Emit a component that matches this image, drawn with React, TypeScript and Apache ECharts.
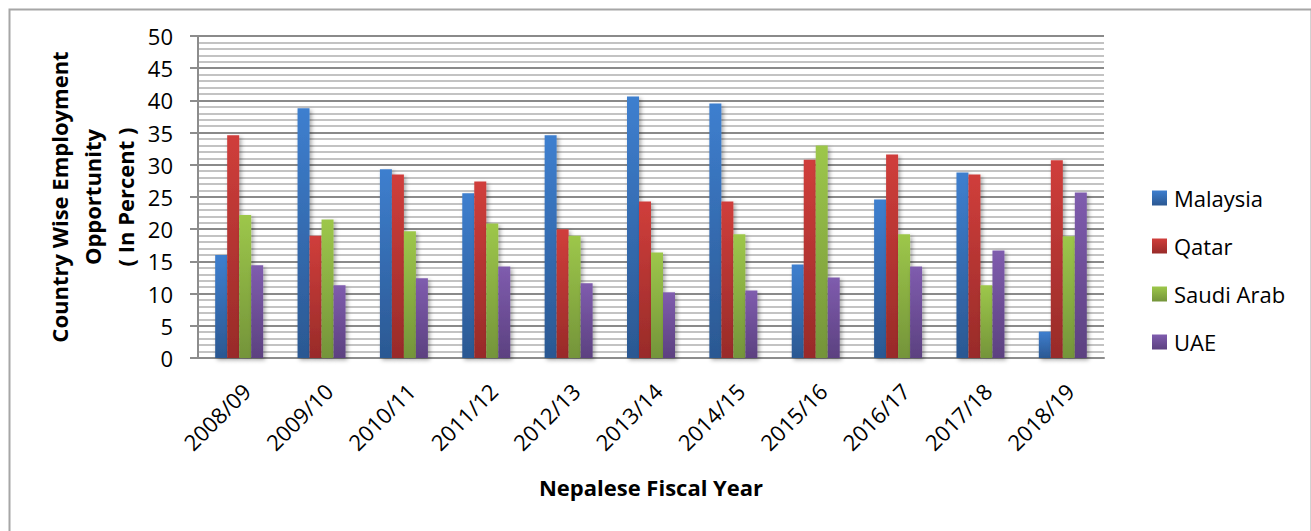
import React, { useEffect, useRef } from "react";
import * as echarts from "echarts";

const categories = ["2008/09", "2009/10", "2010/11", "2011/12", "2012/13", "2013/14", "2014/15", "2015/16", "2016/17", "2017/18", "2018/19"];
const malaysia = [16.0, 38.8, 29.3, 25.6, 34.6, 40.6, 39.5, 14.5, 24.6, 28.8, 4.1];
const qatar = [34.6, 19.0, 28.5, 27.4, 20.0, 24.3, 24.3, 30.8, 31.6, 28.5, 30.7];
const saudiArab = [22.2, 21.5, 19.7, 20.9, 19.0, 16.4, 19.2, 33.0, 19.2, 11.3, 18.9];
const uae = [14.4, 11.3, 12.4, 14.2, 11.6, 10.2, 10.5, 12.5, 14.2, 16.7, 25.7];
const seriesNames = ["Malaysia", "Qatar", "Saudi Arab", "UAE"];
const yTitle = "Country Wise Employment\nOpportunity\n( In Percent )";
const xTitle = "Nepalese Fiscal Year";

const FONT = "'Open Sans', Lato, sans-serif";

const grad = (top: string, bottom: string) =>
  new echarts.graphic.LinearGradient(0, 0, 0, 1, [
    { offset: 0, color: top },
    { offset: 1, color: bottom },
  ]);

export default function App() {
  const ref = useRef<HTMLDivElement>(null);
  useEffect(() => {
    if (!ref.current) return;
    const chart = echarts.init(ref.current, undefined, { renderer: "svg" });
    const colors = [
      grad("#3E7FCF", "#2B5892"),
      grad("#D03E3B", "#982B29"),
      grad("#9DC74A", "#74943A"),
      grad("#7F5CAE", "#5C4180"),
    ];
    const datas = [malaysia, qatar, saudiArab, uae];
    chart.setOption({
      animation: false,
      textStyle: { fontFamily: FONT },
      grid: { left: 198, right: 207, top: 36, bottom: 173, containLabel: false, show: false },
      legend: {
        orient: "vertical",
        left: 1147,
        top: 182,
        itemWidth: 15,
        itemHeight: 15,
        itemGap: 26,
        icon: "rect",
        textStyle: { fontFamily: FONT, fontSize: 22, color: "#000", lineHeight: 22, padding: [0, 0, 0, 2] },
        data: seriesNames,
      },
      xAxis: {
        type: "category",
        data: categories,
        axisLine: { show: true, lineStyle: { color: "#8c8c8c", width: 2 } },
        axisTick: { show: false },
        splitLine: { show: false },
        axisLabel: {
          rotate: 45,
          fontSize: 22,
          color: "#000",
          margin: 36,
          padding: [0, -10, 0, 0],
          fontFamily: FONT,
          interval: 0,
        },
        name: xTitle,
        nameLocation: "middle",
        nameGap: 118,
        nameTextStyle: { fontSize: 22, fontWeight: "bold", color: "#000", fontFamily: FONT },
      },
      yAxis: [
        {
          type: "value",
          min: 0,
          max: 50,
          interval: 1,
          position: "right",
          axisLine: { show: false },
          axisTick: { show: false },
          axisLabel: { show: false },
          splitLine: { show: true, lineStyle: { color: "#c3c3c3", width: 2, type: "solid" } },
        },
        {
          type: "value",
          min: 0,
          max: 50,
          interval: 5,
          position: "left",
          axisLine: { show: true, lineStyle: { color: "#8c8c8c", width: 2 } },
          axisTick: { show: true, length: 8, lineStyle: { color: "#8c8c8c", width: 2 } },
          axisLabel: { fontSize: 22, color: "#000", margin: 25, fontFamily: FONT },
          splitLine: { show: true, lineStyle: { color: "#8a8a8a", width: 2, type: "solid" } },
        },
      ],
      graphic: [
        {
          type: "rect",
          left: 7,
          top: 7,
          shape: { width: 1302, height: 560 },
          style: { fill: "none", stroke: "#a6a6a6", lineWidth: 2 },
          silent: true,
        },
        {
          type: "text",
          x: 92,
          y: 197,
          rotation: Math.PI / 2,
          style: {
            text: yTitle,
            font: `bold 22px ${FONT}`,
            fill: "#000",
            align: "center",
            verticalAlign: "middle",
            lineHeight: 33,
          },
        },
      ],
      series: datas.map((d, i) => ({
        name: seriesNames[i],
        type: "bar",
        yAxisIndex: 1,
        data: d,
        barWidth: 12,
        barGap: "0%",
        itemStyle: {
          color: colors[i],
          shadowColor: "rgba(0,0,0,0.35)",
          shadowBlur: 4,
          shadowOffsetX: 2,
          shadowOffsetY: 2,
        },
      })),
    });
    return () => chart.dispose();
  }, []);
  return (
    <div
      ref={ref}
      style={{ position: "fixed", left: 0, top: 0, width: 1311, height: 531, background: "#fff" }}
    />
  );
}
